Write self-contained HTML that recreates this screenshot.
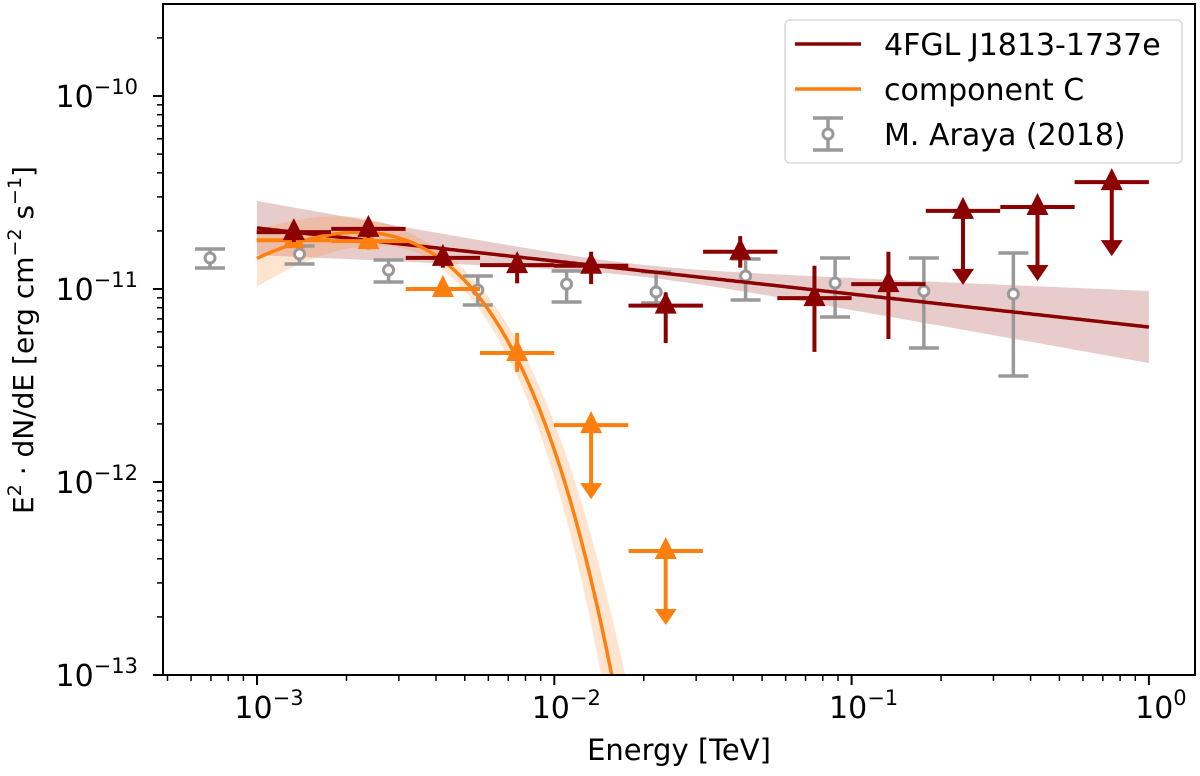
<!DOCTYPE html>
<html><head><meta charset="utf-8"><style>
html,body{margin:0;padding:0;background:#fff;overflow:hidden;width:1200px;height:776px;}
svg{display:block;font-family:"DejaVu Sans","Liberation Sans",sans-serif;}
</style></head><body>
<svg id="chart" width="1200" height="776" viewBox="0 0 1200 776" xmlns="http://www.w3.org/2000/svg">
<defs><clipPath id="clip"><rect x="163" y="4" width="1032" height="671"/></clipPath></defs>
<g id="plot" clip-path="url(#clip)"></g>
<g id="axes"></g>
<g id="legend"></g>
</svg>
<script>
// ---- data ----
const fglE = [0.00133,0.00237,0.00422,0.0075,0.0133,0.0237,0.0422,0.075,0.133,0.237,0.422,0.75];
const fglF = [1.97e-11,2.05e-11,1.45e-11,1.33e-11,1.32e-11,8.2e-12,1.56e-11,8.97e-12,1.06e-11,2.54e-11,2.66e-11,3.58e-11];
const fglLo = [1.75e-11,1.84e-11,1.29e-11,1.07e-11,1.06e-11,5.25e-12,1.29e-11,4.72e-12,5.51e-12,null,null,null];
const fglHi = [2.17e-11,2.26e-11,1.61e-11,1.50e-11,1.56e-11,9.6e-12,1.88e-11,1.32e-11,1.56e-11,null,null,null];
const fglUL = [false,false,false,false,false,false,false,false,false,true,true,true];
const compE = [0.00133,0.00237,0.00422,0.0075,0.0133,0.0237];
const compF = [1.79e-11,1.77e-11,1.0e-11,4.66e-12,1.97e-12,4.39e-13];
const compLo = [1.63e-11,1.60e-11,9.1e-12,3.72e-12,null,null];
const compHi = [1.95e-11,1.95e-11,1.1e-11,5.92e-12,null,null];
const compUL = [false,false,false,false,true,true];
const arayaE = [6.95e-4,1.39e-3,2.77e-3,5.53e-3,1.10e-2,2.2e-2,4.4e-2,8.8e-2,0.175,0.35];
const arayaF = [1.447e-11,1.518e-11,1.254e-11,9.88e-12,1.061e-11,9.65e-12,1.168e-11,1.074e-11,9.76e-12,9.42e-12];
const arayaLo = [1.284e-11,1.347e-11,1.087e-11,8.26e-12,8.56e-12,8.46e-12,8.77e-12,7.16e-12,4.95e-12,3.54e-12];
const arayaHi = [1.611e-11,1.670e-11,1.413e-11,1.168e-11,1.240e-11,1.225e-11,1.430e-11,1.447e-11,1.447e-11,1.536e-11];
const fglModel = [2.07e-11, 2.171, 0.0191, 0.031, 0.107]; // norm@1GeV, index, pivot, band a, band b
const compModel = [2.58e-11, 0.72, 0.00172]; // norm, index, Ecut
const xTicks = [-3,-2,-1,0];
const yTicks = [-10,-11,-12,-13];
// ---- scales ----
const X = e => 257 + (Math.log10(e)+3)*297.3;
const Y = f => 96 + (-10 - Math.log10(f))*193;
const NS="http://www.w3.org/2000/svg";
function mk(tag, attrs, parent){const el=document.createElementNS(NS,tag);for(const k in attrs)el.setAttribute(k,attrs[k]);parent.appendChild(el);return el;}
const plot=document.getElementById('plot'), axes=document.getElementById('axes'), leg=document.getElementById('legend');
const DR='#8b0000', OR='#ff7f0e', GR='#999999';
// ---- model curves ----
function fglF_(e){return fglModel[0]*Math.pow(e/1e-3,2-fglModel[1]);}
function fglSig(e){const d=Math.log10(e/fglModel[2]);return Math.sqrt(fglModel[3]**2+(fglModel[4]*d)**2);}
function compF_(e){return compModel[0]*Math.pow(e/1e-3,2-compModel[1])*Math.exp(-e/compModel[2]);}
function compSig(e){const l=Math.log10(e);return 0.025+0.22*Math.max(0,-2.452-l)+0.27*Math.pow(e/0.0153,2);}
function band(fn,sig,e0,e1){let up=[],dn=[];for(let i=0;i<=200;i++){const e=Math.pow(10,Math.log10(e0)+(Math.log10(e1)-Math.log10(e0))*i/200);const l=Math.log10(fn(e)),s=sig(e);up.push(X(e).toFixed(1)+','+Math.min(900,Y(Math.pow(10,l+s))).toFixed(1));dn.push(X(e).toFixed(1)+','+Math.min(900,Y(Math.pow(10,l-s))).toFixed(1));}return 'M'+up.join('L')+'L'+dn.reverse().join('L')+'Z';}
function line(fn,e0,e1){let p=[];for(let i=0;i<=300;i++){const e=Math.pow(10,Math.log10(e0)+(Math.log10(e1)-Math.log10(e0))*i/300);const y=Y(fn(e));if(y>900)break;p.push(X(e).toFixed(1)+','+y.toFixed(1));}return 'M'+p.join('L');}
let b1=mk('path',{d:band(fglF_,fglSig,1e-3,1),fill:'rgba(139,0,0,0.2)',stroke:'none'},plot);


let b2=mk('path',{d:band(compF_,compSig,1e-3,0.03),fill:'rgba(255,127,14,0.2)',stroke:'none'},plot);


// araya points
arayaE.forEach((e,i)=>{const g=mk('g',{},plot);


const x=X(e);mk('line',{x1:x,x2:x,y1:Y(arayaHi[i]),y2:Y(arayaLo[i]),stroke:GR,'stroke-width':3.5},g);
mk('line',{x1:x-15,x2:x+15,y1:Y(arayaHi[i]),y2:Y(arayaHi[i]),stroke:GR,'stroke-width':3.5},g);
mk('line',{x1:x-15,x2:x+15,y1:Y(arayaLo[i]),y2:Y(arayaLo[i]),stroke:GR,'stroke-width':3.5},g);
mk('circle',{cx:x,cy:Y(arayaF[i]),r:5,fill:'#fff',stroke:GR,'stroke-width':3},g);});
let l1=mk('path',{d:line(fglF_,1e-3,1),fill:'none',stroke:DR,'stroke-width':3.5},plot);


let l2=mk('path',{d:line(compF_,1e-3,0.03),fill:'none',stroke:OR,'stroke-width':3.5},plot);


function pts(E,F,Lo,Hi,UL,col,name){E.forEach((e,i)=>{const g=mk('g',{},plot);


const x=X(e),y=Y(F[i]),hw=Math.pow(10,0.125),x0=X(e/hw),x1=X(e*hw);
mk('line',{x1:x0,x2:x1,y1:y,y2:y,stroke:col,'stroke-width':4},g);
if(UL[i]){mk('line',{x1:x,x2:x,y1:y,y2:y+62,stroke:col,'stroke-width':4},g);
mk('path',{d:`M${x-11},${y+58}L${x+11},${y+58}L${x},${y+74}Z`,fill:col},g);}
else{mk('line',{x1:x,x2:x,y1:Y(Hi[i]),y2:Y(Lo[i]),stroke:col,'stroke-width':4},g);}
mk('path',{d:`M${x},${y-14}L${x+11},${y+8}L${x-11},${y+8}Z`,fill:col},g);});}
pts(compE,compF,compLo,compHi,compUL,OR,'component-c-point');
pts(fglE,fglF,fglLo,fglHi,fglUL,DR,'fgl-point');
// ---- axes ----
mk('rect',{x:163,y:4,width:1032,height:671,fill:'none',stroke:'#000','stroke-width':2},axes);
xTicks.forEach(t=>{const x=X(Math.pow(10,t));mk('line',{x1:x,x2:x,y1:675,y2:685,stroke:'#000','stroke-width':2},axes);
const tx=mk('text',{x:x+12,y:718,'font-size':30,'text-anchor':'middle'},axes);tx.innerHTML='10<tspan dy="-13" font-size="21">'+(t<0?'−'+(-t):t)+'</tspan>';

});
for(let d=-4;d<=0;d++)for(let m=2;m<=9;m++){const e=m*Math.pow(10,d),x=X(e);if(x<164||x>1194)continue;mk('line',{x1:x,x2:x,y1:675,y2:681,stroke:'#000','stroke-width':1.5},axes);}
yTicks.forEach(t=>{const y=Y(Math.pow(10,t));mk('line',{x1:153,x2:163,y1:y,y2:y,stroke:'#000','stroke-width':2},axes);
const tx=mk('text',{x:138,y:y+11,'font-size':30,'text-anchor':'end'},axes);tx.innerHTML='10<tspan dy="-13" font-size="21">−'+(-t)+'</tspan>';

});
for(let d=-13;d<=-10;d++)for(let m=2;m<=9;m++){const y=Y(m*Math.pow(10,d));if(y<5||y>674)continue;mk('line',{x1:157,x2:163,y1:y,y2:y,stroke:'#000','stroke-width':1.5},axes);}
let xl=mk('text',{x:679,y:760,'font-size':29,'text-anchor':'middle'},axes);xl.textContent='Energy [TeV]';


let yl=mk('text',{x:0,y:0,'font-size':28,'text-anchor':'middle',transform:'translate(33,340) rotate(-90)'},axes);
yl.innerHTML='E<tspan dy="-12" font-size="19">2</tspan><tspan dy="12"> · dN/dE [erg cm</tspan><tspan dy="-12" font-size="19">−2</tspan><tspan dy="12"> s</tspan><tspan dy="-12" font-size="19">−1</tspan><tspan dy="12">]</tspan>';


// ---- legend ----
mk('rect',{x:785,y:20,width:397,height:143,rx:5,fill:'#fff',stroke:'#d8d8d8','stroke-width':1.5},leg);
const names=['4FGL J1813-1737e','component C','M. Araya (2018)'];
[44,89,134].forEach((y,i)=>{const g=mk('g',{},leg);


if(i<2)mk('line',{x1:795,x2:861,y1:y,y2:y,stroke:i?OR:DR,'stroke-width':3.5},g);
else{mk('line',{x1:828,x2:828,y1:y-16,y2:y+16,stroke:GR,'stroke-width':3.5},g);mk('line',{x1:813,x2:843,y1:y-16,y2:y-16,stroke:GR,'stroke-width':3.5},g);mk('line',{x1:813,x2:843,y1:y+16,y2:y+16,stroke:GR,'stroke-width':3.5},g);mk('circle',{cx:828,cy:y,r:5,fill:'#fff',stroke:GR,'stroke-width':3},g);}
const t=mk('text',{x:884,y:y+11,'font-size':30},g);t.textContent=names[i];});
</script>
</body></html>
